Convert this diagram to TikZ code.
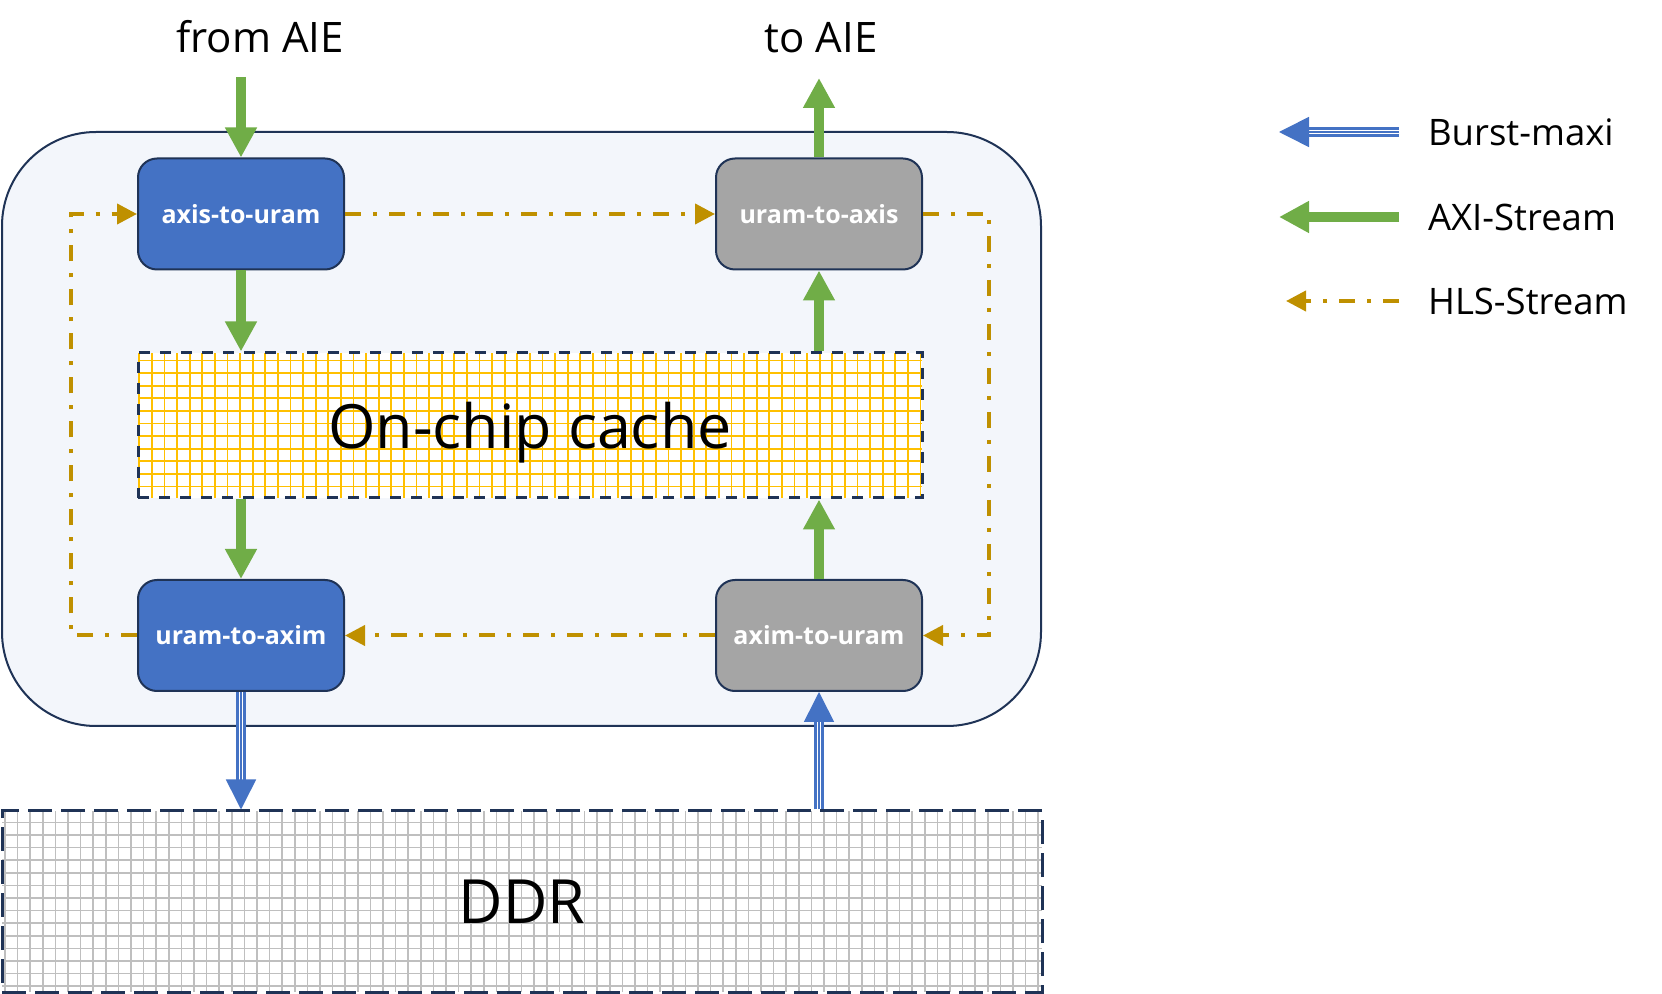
\documentclass[tikz,border=0pt]{standalone}
\usepackage{fontspec}
\setmainfont{Open Sans}
\usepackage{tikz}
\usetikzlibrary{arrows.meta}
\definecolor{kernelblue}{HTML}{4472C4}
\definecolor{kernelgray}{HTML}{A5A5A5}
\definecolor{boxnavy}{HTML}{1F3356}
\definecolor{boardfill}{HTML}{F3F6FB}
\definecolor{axigreen}{HTML}{70AD47}
\definecolor{hlsgold}{HTML}{BF9000}
\definecolor{cacheyellow}{HTML}{FFC000}
\definecolor{ddrgray}{HTML}{BFBFBF}

\begin{document}
\begin{tikzpicture}[x=0.5pt,y=-0.5pt,
	kernel/.style={draw=boxnavy,line width=1pt,rounded corners=9.5pt,minimum width=103pt,minimum height=55.5pt,text=white,font=\bfseries\fontsize{12.5}{15}\selectfont},
	axi/.style={draw=axigreen,line width=5pt,-{Triangle[width=15pt,length=15pt]}},
	burst/.style={draw=kernelblue,line width=0.8pt,-{Triangle[width=15pt,length=15pt]},preaction={draw=kernelblue,-,double=white,double distance=2.4pt,line width=1.3pt,shorten >=14pt}},
	hls/.style={draw=hlsgold,line width=2pt,dash pattern=on 8pt off 6pt on 2pt off 6pt,-{Triangle[width=10pt,length=10pt]}},
	legend/.style={anchor=west,font=\fontsize{18.25}{22}\selectfont}]
			\useasboundingbox (0,0) rectangle (1662,994);
			% board and memories
			\node[draw=boxnavy,fill=boardfill,line width=1pt,rounded corners=47pt,minimum width=519.5pt,minimum height=297pt] (board) at (521.5,429) {};
			\node[draw=boxnavy,fill=white,line width=1.5pt,dash pattern=on 5.5pt off 5pt,minimum width=392pt,minimum height=72.5pt,text depth=0pt,font=\fontsize{30.5}{36}\selectfont,
				path picture={\draw[cacheyellow,solid,line width=0.85pt,step=6.3pt] (path picture bounding box.south west) grid (path picture bounding box.north east);}] (cache) at (530,425.5) {On-chip cache};
			\node[draw=boxnavy,fill=white,line width=1.5pt,dash pattern=on 12pt off 4.5pt,minimum width=520pt,minimum height=90.5pt,font=\fontsize{30.5}{36}\selectfont,
				path picture={\draw[ddrgray,solid,line width=0.8pt,step=6.3pt] (path picture bounding box.south west) grid (path picture bounding box.north east);}] (ddr) at (522,901.5) {DDR};
			% kernels
			\node[kernel,fill=kernelblue] (axis2uram) at (241,214) {axis-to-uram};
			\node[kernel,fill=kernelgray] (uram2axis) at (819,214) {uram-to-axis};
			\node[kernel,fill=kernelblue] (uram2axim) at (241,635.5) {uram-to-axim};
			\node[kernel,fill=kernelgray] (axim2uram) at (819,635.5) {axim-to-uram};
			\node[anchor=base,font=\fontsize{21}{25}\selectfont] (fromaie) at (260,53) {from AIE};
			\node[anchor=base,font=\fontsize{21}{25}\selectfont] (toaie) at (821,53) {to AIE};
			\coordinate (aiein) at (241,77);
			\coordinate (aieout) at (819,78);
			\coordinate (hlsL) at (71,424);
			\coordinate (hlsR) at (989,424);
			% AXI-Stream
			\draw[axi] (aiein) -- (axis2uram.north);
			\draw[axi] (axis2uram.south) -- (axis2uram.south |- cache.north);
			\draw[axi] (uram2axim.north |- cache.south) -- (uram2axim.north);
			\draw[axi] (axim2uram.north) -- (axim2uram.north |- cache.south);
			\draw[axi] (uram2axis.south |- cache.north) -- (uram2axis.south);
			\draw[axi] (uram2axis.north) -- (aieout);
			% HLS-Stream
			\draw[hls] (uram2axim.west) -| (hlsL) |- (axis2uram.west);
			\draw[hls] (axis2uram.east) -- (uram2axis.west);
			\draw[hls] (uram2axis.east) -| (hlsR) |- (axim2uram.east);
			\draw[hls] (axim2uram.west) -- (uram2axim.east);
			% Burst-maxi
			\draw[burst] (uram2axim.south) -- (uram2axim.south |- ddr.north);
			\draw[burst] (axim2uram.south |- ddr.north) -- (axim2uram.south);
			% legend
			\coordinate (lgburstA) at (1399,132);
			\coordinate (lgburstB) at (1279,132);
			\coordinate (lgaxiA) at (1399,217);
			\coordinate (lgaxiB) at (1279,217);
			\coordinate (lghlsA) at (1399,301);
			\coordinate (lghlsB) at (1286,301);
			\draw[burst] (lgburstA) -- (lgburstB);
			\draw[axi] (lgaxiA) -- (lgaxiB);
			\draw[hls] (lghlsA) -- (lghlsB);
			\node[legend] (lgburst) at (1421,132) {Burst-maxi};
			\node[legend] (lgaxi) at (1421,217) {AXI-Stream};
			\node[legend] (lghls) at (1421,301) {HLS-Stream};
\end{tikzpicture}
\end{document}
